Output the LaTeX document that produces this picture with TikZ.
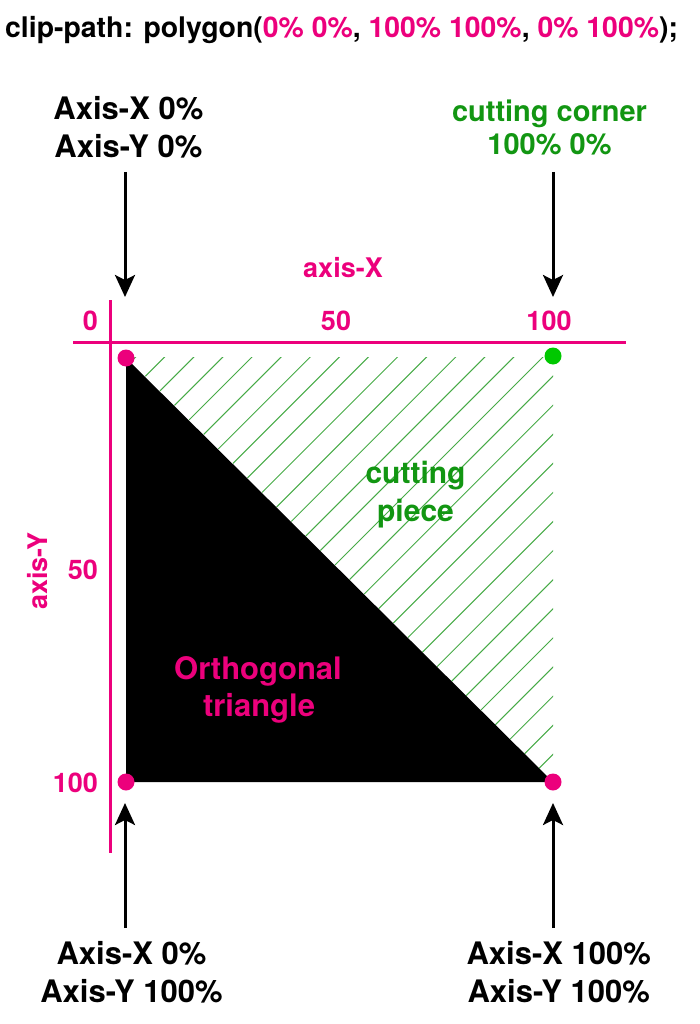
\documentclass[tikz,border=0pt]{standalone}
\usepackage{fontspec}
\setmainfont{TeX Gyre Heros}
\usetikzlibrary{arrows.meta}
\definecolor{pk}{RGB}{236,0,124}
\definecolor{gtext}{RGB}{18,150,18}
\definecolor{gdot}{RGB}{0,200,0}
\definecolor{hatchc}{RGB}{70,170,70}
\begin{document}
\begin{tikzpicture}[x=1pt,y=-1pt,
  lbl/.style={font=\bfseries\fontsize{31}{31}\selectfont, anchor=base, inner sep=0pt},
  glbl/.style={font=\bfseries\fontsize{30}{30}\selectfont, anchor=base, inner sep=0pt, text=gtext},
  plbl/.style={font=\bfseries\fontsize{31}{31}\selectfont, anchor=base, inner sep=0pt, text=pk},
  num/.style={font=\bfseries\fontsize{27}{27}\selectfont, inner sep=0pt, text=pk},
  dotp/.style={circle, fill=pk, minimum size=17pt, inner sep=0pt},
  dotg/.style={circle, fill=gdot, minimum size=17pt, inner sep=0pt},
  arr/.style={line width=3pt, -{Stealth[length=22pt, width=20pt, inset=5pt]}},
  axisline/.style={line width=3pt, draw=pk},
  hatchline/.style={line width=1pt, draw=hatchc}
]
\useasboundingbox (0,0) rectangle (700,1024);

% title
\node[font=\bfseries\fontsize{28.4}{28.4}\selectfont, anchor=base west, inner sep=0pt] (title) at (5,37.7)
  {clip-path: polygon(\textcolor{pk}{0\% 0\%}, \textcolor{pk}{100\% 100\%}, \textcolor{pk}{0\% 100\%});};

% hatching of the cutting piece
\begin{scope}
  \clip (126,357) -- (553,357) -- (553,782) -- cycle;
  \foreach \k in {-14,...,15} {
    \pgfmathsetmacro{\s}{900+29.1*\k}
    \draw[hatchline] ({\s-900},900) -- ({\s-300},300);
  }
\end{scope}

% black triangle
\fill[black] (126,358) -- (553,782) -- (126,782) -- cycle;

% axes
\coordinate (xa) at (73,342);
\coordinate (xb) at (626,342);
\coordinate (ya) at (110,300);
\coordinate (yb) at (110,853);
\draw[axisline] (xa) -- (xb);
\draw[axisline] (ya) -- (yb);

% axis labels
\node[num, anchor=base] (axX) at (343,277.5) {axis-X};
\node[num, rotate=90] (axY) at (38,571) {axis-Y};
\node[num, anchor=base east] (n0) at (98,330) {0};
\node[num, anchor=base] (n50x) at (336,330) {50};
\node[num, anchor=base] (n100x) at (549,330) {100};
\node[num, anchor=base east] (n50y) at (98,579.5) {50};
\node[num, anchor=base east] (n100y) at (98,792) {100};

% corner dots
\node[dotp] (ptl) at (126,358) {};
\node[dotg] (ptr) at (553,356) {};
\node[dotp] (pbl) at (126,782) {};
\node[dotp] (pbr) at (553,782) {};

% inner labels
\node[glbl] (cut1) at (415.5,483.3) {cutting};
\node[glbl] (cut2) at (415.5,521.7) {piece};
\node[plbl] (ort1) at (258,679) {Orthogonal};
\node[plbl] (ort2) at (259,716) {triangle};

% top labels
\node[lbl] (tl1) at (128.4,120) {Axis-X 0\%};
\node[lbl] (tl2) at (128.4,157.7) {Axis-Y 0\%};
\node[glbl, font=\bfseries\fontsize{29}{29}\selectfont] (tr1) at (549.5,121.7) {cutting corner};
\node[glbl, font=\bfseries\fontsize{29}{29}\selectfont] (tr2) at (549.5,155) {100\% 0\%};

% bottom labels
\node[lbl] (bl1) at (131.5,964) {Axis-X 0\%};
\node[lbl] (bl2) at (131.5,1002.7) {Axis-Y 100\%};
\node[lbl] (br1) at (558.7,964) {Axis-X 100\%};
\node[lbl] (br2) at (558.7,1002.7) {Axis-Y 100\%};

% arrows
\coordinate (a1s) at (125,172);
\coordinate (a1e) at (125,297);
\coordinate (a2s) at (553,172);
\coordinate (a2e) at (553,297);
\coordinate (a3s) at (125,928);
\coordinate (a3e) at (125,803);
\coordinate (a4s) at (553,928);
\coordinate (a4e) at (553,803);
\draw[arr] (a1s) -- (a1e);
\draw[arr] (a2s) -- (a2e);
\draw[arr] (a3s) -- (a3e);
\draw[arr] (a4s) -- (a4e);
\end{tikzpicture}
\end{document}
